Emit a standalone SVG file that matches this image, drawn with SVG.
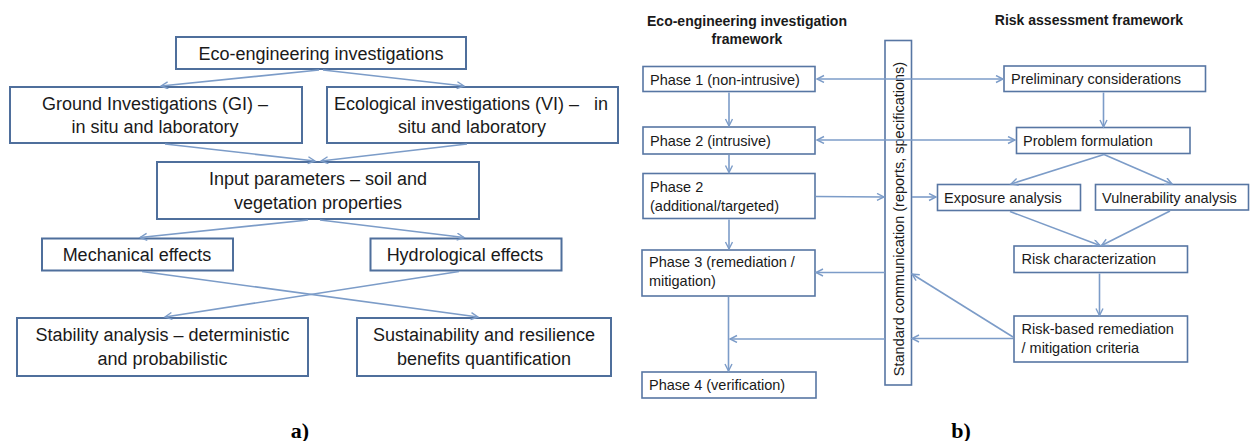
<svg xmlns="http://www.w3.org/2000/svg" width="1250" height="441" viewBox="0 0 1250 441">
<style>
.box{fill:#fff;stroke:#4f6f9c;stroke-width:2}
.bx2{fill:#fff;stroke:#5776a3;stroke-width:1.6}
.t{font-family:"Liberation Sans",Arial,sans-serif;font-size:18px;fill:#1a1a1a;text-anchor:middle}
.s{font-family:"Liberation Sans",Arial,sans-serif;font-size:14.5px;fill:#1a1a1a}
.h{font-family:"Liberation Sans",Arial,sans-serif;font-size:14px;font-weight:bold;fill:#1a1a1a;text-anchor:middle}
.lab{font-family:"Liberation Serif","Times New Roman",serif;font-size:22px;font-weight:bold;fill:#000;text-anchor:middle}
.c{stroke:#7c9cc8;stroke-width:1.6;fill:none}
</style>
<defs>
<marker id="ah" markerWidth="10" markerHeight="10" refX="8" refY="4" orient="auto-start-reverse" markerUnits="userSpaceOnUse">
<path d="M1,0.5 L8,4 L1,7.5" fill="none" stroke="#7c9cc8" stroke-width="1.4"/>
</marker>
</defs>

<!-- panel a nodes -->
<g id="a_eco"><rect class="box" x="176" y="37" width="290" height="32"/><text class="t" x="321" y="59.5">Eco-engineering investigations</text></g>
<g id="a_gi"><rect class="box" x="10" y="87" width="292" height="56"/><text class="t" x="155" y="109.5">Ground Investigations (GI) –</text><text class="t" x="155" y="133">in situ and laboratory</text></g>
<g id="a_vi"><rect class="box" x="327" y="87" width="291" height="56"/><text class="t" x="471" y="109.5" xml:space="preserve">Ecological investigations (VI) –   in</text><text class="t" x="472" y="133">situ and laboratory</text></g>
<g id="a_input"><rect class="box" x="157" y="162" width="322" height="57"/><text class="t" x="318" y="185">Input parameters – soil and</text><text class="t" x="318" y="208.5">vegetation properties</text></g>
<g id="a_mech"><rect class="box" x="42" y="238.5" width="191" height="32"/><text class="t" x="137" y="260.5">Mechanical effects</text></g>
<g id="a_hydro"><rect class="box" x="370.5" y="238.5" width="191" height="32"/><text class="t" x="465" y="260.5">Hydrological effects</text></g>
<g id="a_stab"><rect class="box" x="17" y="318" width="291" height="58"/><text class="t" x="162.5" y="341">Stability analysis – deterministic</text><text class="t" x="162.5" y="365">and probabilistic</text></g>
<g id="a_sust"><rect class="box" x="357" y="318" width="254" height="58"/><text class="t" x="484" y="341">Sustainability and resilience</text><text class="t" x="484" y="365">benefits quantification</text></g>
<text class="lab" x="300" y="438">a)</text>

<!-- panel b titles -->
<text class="h" x="747" y="26">Eco-engineering investigation</text>
<text class="h" x="747" y="43.5">framework</text>
<text class="h" x="1089" y="25">Risk assessment framework</text>

<!-- panel b nodes -->
<g id="b_comm"><rect class="bx2" style="fill:none" x="885" y="40.5" width="26.5" height="344.5"/><text class="s" text-anchor="middle" transform="translate(904,219) rotate(-90)">Standard communication (reports, specifications)</text></g>
<g id="b_p1"><rect class="bx2" x="643" y="66.5" width="172" height="25"/><text class="s" x="650" y="84.5">Phase 1 (non-intrusive)</text></g>
<g id="b_p2"><rect class="bx2" x="643" y="127" width="172" height="27"/><text class="s" x="650" y="145.5">Phase 2 (intrusive)</text></g>
<g id="b_p2b"><rect class="bx2" x="643" y="173.5" width="172" height="45"/><text class="s" x="650" y="192">Phase 2</text><text class="s" x="650" y="211">(additional/targeted)</text></g>
<g id="b_p3"><rect class="bx2" x="642" y="250" width="173" height="46"/><text class="s" x="649" y="266.5">Phase 3 (remediation /</text><text class="s" x="649" y="286">mitigation)</text></g>
<g id="b_p4"><rect class="bx2" x="642" y="372" width="174" height="26"/><text class="s" x="649" y="390">Phase 4 (verification)</text></g>
<g id="b_prelim"><rect class="bx2" x="1004" y="66" width="201.5" height="25.5"/><text class="s" x="1011" y="84">Preliminary considerations</text></g>
<g id="b_prob"><rect class="bx2" x="1016.5" y="127.5" width="173.5" height="26"/><text class="s" x="1023" y="145.5">Problem formulation</text></g>
<g id="b_exp"><rect class="bx2" x="937.5" y="184.5" width="143" height="26"/><text class="s" x="944" y="202.5">Exposure analysis</text></g>
<g id="b_vul"><rect class="bx2" x="1095.5" y="184.5" width="153" height="25.5"/><text class="s" x="1102" y="202.5">Vulnerability analysis</text></g>
<g id="b_riskc"><rect class="bx2" x="1014" y="246" width="173.5" height="26.5"/><text class="s" x="1021.5" y="264">Risk characterization</text></g>
<g id="b_riskb"><rect class="bx2" x="1014" y="316" width="173.5" height="46"/><text class="s" x="1021.5" y="333.5">Risk-based remediation</text><text class="s" x="1021.5" y="352.5">/ mitigation criteria</text></g>
<text class="lab" x="961" y="438">b)</text>

<g id="connectors">
<!-- panel a -->
<line class="c" x1="319" y1="70" x2="161" y2="86" marker-end="url(#ah)"/>
<line class="c" x1="323" y1="70" x2="464" y2="86" marker-end="url(#ah)"/>
<line class="c" x1="165" y1="144" x2="315" y2="161" marker-end="url(#ah)"/>
<line class="c" x1="467" y1="144" x2="321" y2="161" marker-end="url(#ah)"/>
<line class="c" x1="308" y1="220" x2="140" y2="237.5" marker-end="url(#ah)"/>
<line class="c" x1="320" y1="220" x2="464" y2="237.5" marker-end="url(#ah)"/>
<line class="c" x1="142" y1="271.5" x2="478" y2="317" marker-end="url(#ah)"/>
<line class="c" x1="459" y1="271.5" x2="165" y2="317" marker-end="url(#ah)"/>
<!-- panel b -->
<line class="c" x1="817" y1="79" x2="1003" y2="79" marker-start="url(#ah)" marker-end="url(#ah)"/>
<line class="c" x1="817" y1="140" x2="1015" y2="140" marker-start="url(#ah)" marker-end="url(#ah)"/>
<line class="c" x1="816" y1="196.5" x2="884" y2="197" marker-end="url(#ah)"/>
<line class="c" x1="912" y1="197" x2="936" y2="197" marker-end="url(#ah)"/>
<line class="c" x1="729" y1="92.5" x2="729" y2="126" marker-end="url(#ah)"/>
<line class="c" x1="729" y1="155" x2="729" y2="172.5" marker-end="url(#ah)"/>
<line class="c" x1="729" y1="219.5" x2="729" y2="249" marker-end="url(#ah)"/>
<line class="c" x1="728.5" y1="297" x2="728.5" y2="371" marker-end="url(#ah)"/>
<line class="c" x1="885" y1="272.5" x2="816" y2="272.5" marker-end="url(#ah)"/>
<line class="c" x1="885" y1="339" x2="730" y2="339" marker-end="url(#ah)"/>
<line class="c" x1="1013" y1="338.5" x2="912" y2="338.5" marker-end="url(#ah)"/>
<line class="c" x1="1013" y1="337" x2="912" y2="274" marker-end="url(#ah)"/>
<line class="c" x1="1103.5" y1="92.5" x2="1103.5" y2="127" marker-end="url(#ah)"/>
<line class="c" x1="1104" y1="154.5" x2="1011" y2="184" marker-end="url(#ah)"/>
<line class="c" x1="1104" y1="154.5" x2="1172" y2="184" marker-end="url(#ah)"/>
<line class="c" x1="1010" y1="211.5" x2="1100" y2="245.5" marker-end="url(#ah)"/>
<line class="c" x1="1170" y1="211" x2="1101.5" y2="245.5" marker-end="url(#ah)"/>
<line class="c" x1="1099.5" y1="273.5" x2="1099.5" y2="315.5" marker-end="url(#ah)"/>
</g>
</svg>
